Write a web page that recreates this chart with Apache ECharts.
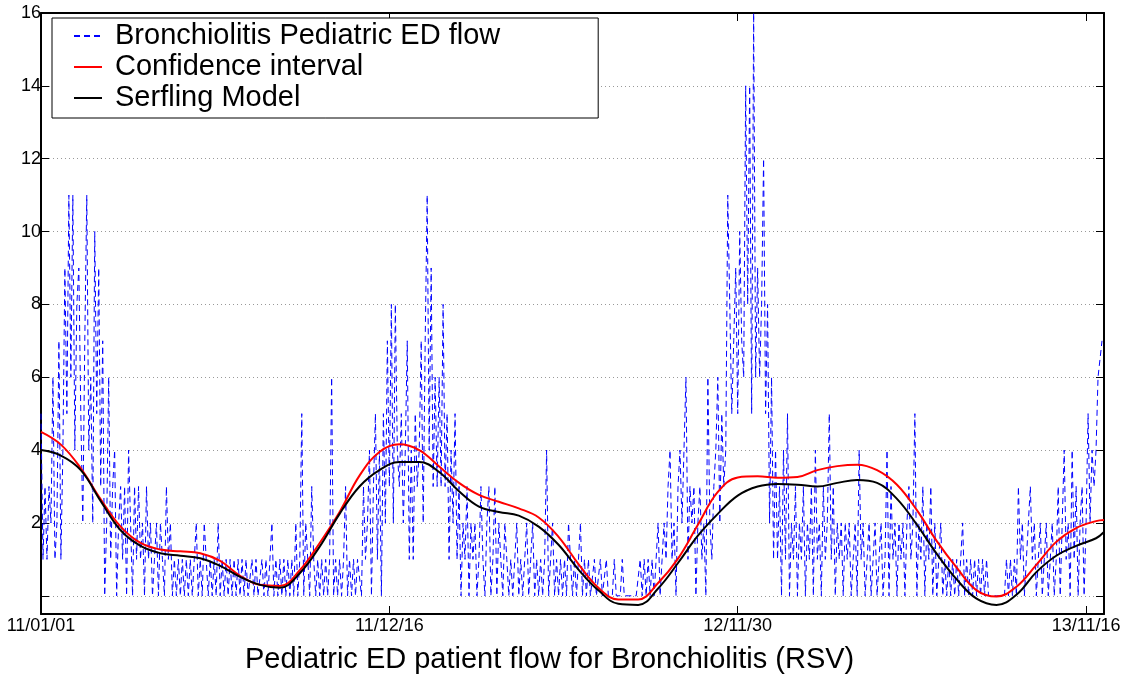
<!DOCTYPE html>
<html>
<head>
<meta charset="utf-8">
<title>Bronchiolitis</title>
<script src="https://cdn.jsdelivr.net/npm/echarts/dist/echarts.min.js"></script>
<style>
  html, body { margin: 0; padding: 0; background: #fff; }
  #chart { width: 1130px; height: 680px; }
</style>
</head>
<body>
<div id="chart"></div>
<script>
// x tick labels (yy/mm/dd), one every 350 days
var tickLabels = ['11/01/01', '11/12/16', '12/11/30', '13/11/16'];
// y ticks (0 has a tick and grid line but no label)
var yTicks = [0, 2, 4, 6, 8, 10, 12, 14, 16];

// daily ED flow, read every 2 days, by chunks of 100 days
var flow0 = [5,1,3,1,3,2,6,1,2,7,1,4,9,5,11,6,11,4,8,9,5,2,7,11,4,6,2,10,5,9,3,7,0,2,6,1,3,4,0,2,3,1,3,0,4,2,0,3,1,3];
var flow1 = [1,2,0,3,1,2,0,1,2,0,2,1,0,3,1,2,0,1,0,1,0,1,0,1,0,1,0,1,2,0,1,0,2,1,0,1,0,1,0,2,0,1,0,1,0,1,0,1,0,1];
var flow2 = [0,1,0,1,0,0,1,0,1,0,0,1,0,1,0,0,2,0,1,0,1,0,1,0,1,0,1,0,2,0,1,5,0,2,1,0,3,1,0,1,0,1,0,1,0,1,6,0,1,0];
var flow3 = [1,0,1,3,0,1,0,1,0,1,1,0,3,1,2,4,0,3,5,1,4,0,5,2,7,3,8,2,8,4,3,5,2,4,7,1,4,1,5,3,4,7,2,7,11,4,9,3,6,3];
var flow4 = [6,3,8,3,5,1,4,2,5,1,3,0,2,1,3,0,2,1,2,0,1,3,1,0,2,3,0,1,3,0,2,1,0,2,1,0,1,0,1,2,0,1,0,1,2,0,1,2,0,1];
var flow5 = [0,1,0,1,4,0,1,2,0,1,0,1,0,1,0,2,1,0,1,0,1,2,0,1,0,1,0,0,1,0,0,1,0,0,1,0,0,0,1,0,0,0,1,0,0,0,0,0,0,0];
var flow6 = [0,1,0,1,0,1,0,1,0,1,2,0,1,2,1,3,4,1,2,0,3,4,2,4,6,1,3,2,3,0,2,3,1,2,0,6,2,1,3,4,6,2,5,3,4,11,11,5,7,9];
var flow7 = [5,10,7,6,14,8,14,5,16,6,9,6,8,12,5,8,2,6,1,4,1,3,0,4,1,5,0,2,1,3,0,2,1,3,0,2,1,3,0,4,1,2,0,3,1,2,5,1,3,0];
var flow8 = [2,1,2,0,2,1,2,0,1,2,0,4,1,2,0,1,2,0,1,2,0,1,2,0,1,4,0,3,1,2,0,2,1,2,0,2,3,1,2,5,0,2,1,3,0,2,1,3,0,2];
var flow9 = [0,1,2,0,1,0,1,0,1,0,1,0,1,2,0,1,0,1,0,1,0,1,0,1,0,1,0,0,0,0,0,0,0,0,0,1,0,1,0,1,0,3,1,2,0,1,2,3,1,2];
var flow10 = [0,1,2,0,1,2,0,1,2,0,1,3,0,2,4,1,2,0,4,1,3,0,2,3,0,2,5,2,4,3,4,6,6,7];
var flowStep = 2;

// smooth curves, sampled every 20 days
var curveDays = [0,20,40,60,80,100,120,140,160,180,200,220,240,260,280,300,320,340,360,380,400,420,440,460,480,500,520,540,560,580,600,620,640,660,680,700,720,740,760,780,800,820,840,860,880,900,920,940,960,980,1000,1020,1040,1060,1068];
var confidence = [4.5,4.15,3.5,2.65,1.9,1.45,1.27,1.22,1.17,0.96,0.55,0.3,0.27,0.7,1.45,2.3,3.3,3.95,4.16,4.0,3.55,3.1,2.77,2.58,2.4,2.15,1.62,0.87,0.22,-0.1,-0.1,0.35,1.02,1.95,2.85,3.25,3.28,3.24,3.26,3.45,3.56,3.6,3.45,3.05,2.35,1.5,0.77,0.15,-0.02,0.25,0.85,1.48,1.86,2.05,2.08];
var serfling = [4.0,3.85,3.45,2.6,1.8,1.37,1.17,1.1,1.03,0.82,0.52,0.3,0.22,0.62,1.35,2.25,3.0,3.45,3.67,3.67,3.4,2.87,2.45,2.3,2.2,1.9,1.4,0.72,0.15,-0.22,-0.25,0.2,0.9,1.65,2.25,2.75,3.0,3.07,3.05,3.0,3.1,3.18,3.1,2.66,1.95,1.15,0.45,-0.08,-0.25,0.03,0.65,1.1,1.37,1.58,1.75];

var flow = [].concat(flow0, flow1, flow2, flow3, flow4, flow5, flow6, flow7, flow8, flow9, flow10);
var flowData = flow.map(function (v, i) { return [i * flowStep, v]; });
var confData = curveDays.map(function (d, i) { return [d, confidence[i]]; });
var serfData = curveDays.map(function (d, i) { return [d, serfling[i]]; });

var font = '"Liberation Sans", Helvetica, Arial, sans-serif';
var chart = echarts.init(document.getElementById('chart'));

var baseX = {
  type: 'value', min: 0, max: 1068, interval: 350,
  axisLine: { onZero: false, lineStyle: { color: '#000', width: 2 } },
  axisTick: { inside: true, length: 8, lineStyle: { color: '#000', width: 1 } },
  splitLine: { show: false }
};
var baseY = {
  type: 'value', min: -0.5, max: 16,
  axisLine: { onZero: false, lineStyle: { color: '#000', width: 2 } },
  axisTick: { inside: true, length: 8, customValues: yTicks, lineStyle: { color: '#000', width: 1 } }
};

chart.setOption({
  animation: false,
  grid: { left: 41, right: 26, top: 13, bottom: 66 },
  xAxis: [
    Object.assign({}, baseX, {
      position: 'bottom',
      axisLabel: {
        color: '#000', fontSize: 18, fontFamily: font, margin: 3,
        formatter: function (v) { return v % 350 === 0 ? tickLabels[v / 350] : ''; }
      }
    }),
    Object.assign({}, baseX, { position: 'top', axisLabel: { show: false } })
  ],
  yAxis: [
    Object.assign({}, baseY, {
      position: 'left',
      axisLabel: {
        color: '#000', fontSize: 18, fontFamily: font, margin: 0,
        customValues: yTicks.slice(1)
      },
      splitLine: { show: true, lineStyle: { color: '#999', width: 1, type: [1, 3] } }
    }),
    Object.assign({}, baseY, {
      position: 'right', axisLabel: { show: false }, splitLine: { show: false }
    })
  ],
  legend: {
    orient: 'vertical', left: 52, top: 18,
    backgroundColor: '#fff', borderColor: '#000', borderWidth: 1,
    padding: [3, 98, 5, 21],
    itemWidth: 28, itemHeight: 14, itemGap: 1,
    itemStyle: { color: 'rgba(0,0,0,0)', borderColor: 'rgba(0,0,0,0)', borderWidth: 0 },
    textStyle: { color: '#000', fontSize: 29, fontFamily: font, lineHeight: 30, padding: [0, 0, 0, 8] },
    data: ['Bronchiolitis Pediatric ED flow', 'Confidence interval', 'Serfling Model']
  },
  graphic: [{
    type: 'text', left: 551 - 306, top: 645,
    style: { text: 'Pediatric ED patient flow for Bronchiolitis (RSV)', font: '29px ' + font, fill: '#000' }
  }],
  series: [
    {
      name: 'Bronchiolitis Pediatric ED flow', type: 'line', symbol: 'none',
      lineStyle: { color: '#0000ff', width: 1, type: [6, 4] },
      itemStyle: { color: '#0000ff' },
      data: flowData
    },
    {
      name: 'Confidence interval', type: 'line', symbol: 'none', smooth: 0.4,
      lineStyle: { color: '#ff0000', width: 2 },
      itemStyle: { color: '#ff0000' },
      data: confData
    },
    {
      name: 'Serfling Model', type: 'line', symbol: 'none', smooth: 0.4,
      lineStyle: { color: '#000', width: 2 },
      itemStyle: { color: '#000' },
      data: serfData
    }
  ]
});
</script>
</body>
</html>
